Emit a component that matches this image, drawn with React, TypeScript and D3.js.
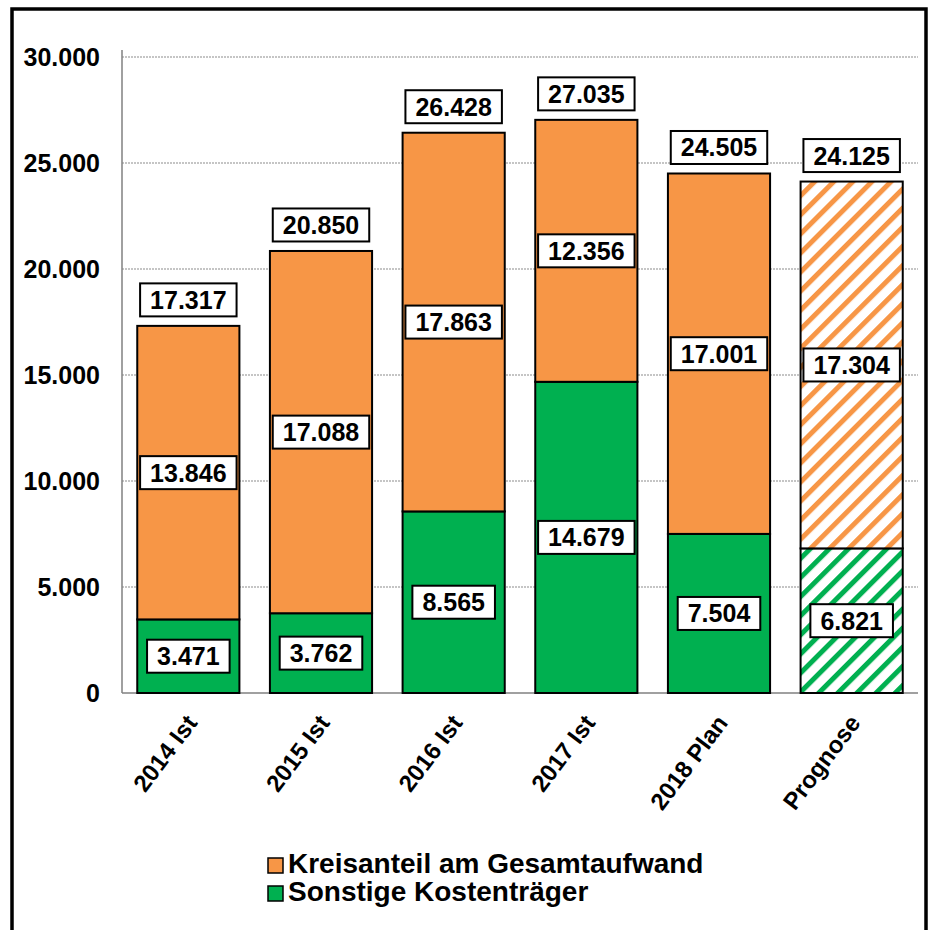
import React from 'react';
import * as d3 from 'd3';

const categories = ['2014 Ist', '2015 Ist', '2016 Ist', '2017 Ist', '2018 Plan', 'Prognose'];
const sonstige = [3471, 3762, 8565, 14679, 7504, 6821];
const kreisanteil = [13846, 17088, 17863, 12356, 17001, 17304];
const totals = [17317, 20850, 26428, 27035, 24505, 24125];
const hatched = [false, false, false, false, false, true];
const yTicks = [0, 5000, 10000, 15000, 20000, 25000, 30000];
const seriesNames = ['Kreisanteil am Gesamtaufwand', 'Sonstige Kostenträger'];

const ORANGE = '#F79646';
const GREEN = '#00B050';
const FONT = 'Liberation Sans, Arial, sans-serif';

const fmt = (v: number) => d3.format(',')(v).replace(/,/g, '.');

export default function App() {
  const ref = React.useRef<SVGSVGElement>(null);

  React.useEffect(() => {
    const svg = d3.select(ref.current);
    svg.selectAll('*').remove();

    const left = 122, right = 918, top = 57, bottom = 693;

    const defs = svg.append('defs');
    [['hatchOrange', ORANGE], ['hatchGreen', GREEN]].forEach(([id, c]) => {
      const p = defs.append('pattern')
        .attr('id', id)
        .attr('patternUnits', 'userSpaceOnUse')
        .attr('width', 13.5)
        .attr('height', 13.5)
        .attr('patternTransform', 'rotate(45)');
      p.append('rect').attr('width', 13.5).attr('height', 13.5).attr('fill', '#fff');
      p.append('rect').attr('x', 0).attr('width', 5).attr('height', 13.5).attr('fill', c);
    });

    // outer frame
    svg.append('rect')
      .attr('x', 12).attr('y', 9).attr('width', 914).attr('height', 930)
      .attr('fill', 'none').attr('stroke', '#000').attr('stroke-width', 3.5);

    const x = d3.scaleBand().domain(categories).range([left, right]).paddingInner(0.23).paddingOuter(0.115);
    const y = d3.scaleLinear().domain([0, 30000]).range([bottom, top]);

    // gridlines
    svg.append('g').selectAll('line')
      .data(yTicks.filter(d => d > 0))
      .enter().append('line')
      .attr('x1', left).attr('x2', right)
      .attr('y1', d => y(d)).attr('y2', d => y(d))
      .attr('stroke', '#8c8c8c').attr('stroke-width', 1.2).attr('stroke-dasharray', '2,1');

    // axes lines
    svg.append('line').attr('x1', left).attr('x2', left).attr('y1', 50).attr('y2', bottom)
      .attr('stroke', '#808080').attr('stroke-width', 1.5);
    svg.append('line').attr('x1', left).attr('x2', right).attr('y1', bottom).attr('y2', bottom)
      .attr('stroke', '#808080').attr('stroke-width', 1.5);

    // y tick labels
    svg.append('g').selectAll('text')
      .data(yTicks)
      .enter().append('text')
      .attr('x', 100).attr('y', d => y(d)).attr('dy', '0.36em')
      .attr('text-anchor', 'end')
      .attr('font-family', FONT).attr('font-weight', 'bold').attr('font-size', 25)
      .text(d => fmt(d));

    const bars = svg.append('g');
    categories.forEach((c, i) => {
      const x0 = x(c)!;
      const w = x.bandwidth();
      const g0 = sonstige[i];
      const g1 = g0 + kreisanteil[i];
      bars.append('rect')
        .attr('x', x0).attr('width', w)
        .attr('y', y(g0)).attr('height', y(0) - y(g0))
        .attr('fill', hatched[i] ? 'url(#hatchGreen)' : GREEN)
        .attr('stroke', '#000').attr('stroke-width', 2);
      bars.append('rect')
        .attr('x', x0).attr('width', w)
        .attr('y', y(g1)).attr('height', y(g0) - y(g1))
        .attr('fill', hatched[i] ? 'url(#hatchOrange)' : ORANGE)
        .attr('stroke', '#000').attr('stroke-width', 2);
    });

    const labelBox = (cx: number, cy: number, v: number) => {
      const g = svg.append('g');
      const t = g.append('text')
        .attr('x', cx).attr('y', cy).attr('dy', '0.36em')
        .attr('text-anchor', 'middle')
        .attr('font-family', FONT).attr('font-weight', 'bold').attr('font-size', 25)
        .text(fmt(v));
      const tw = (t.node() as SVGTextElement).getComputedTextLength();
      const bw = tw + 20, bh = 33;
      g.insert('rect', 'text')
        .attr('x', cx - bw / 2).attr('y', cy - bh / 2)
        .attr('width', bw).attr('height', bh)
        .attr('fill', '#fff').attr('stroke', '#000').attr('stroke-width', 2);
    };

    categories.forEach((c, i) => {
      const cx = x(c)! + x.bandwidth() / 2;
      const g0 = sonstige[i];
      const g1 = g0 + kreisanteil[i];
      labelBox(cx, (y(0) + y(g0)) / 2, sonstige[i]);
      labelBox(cx, (y(g0) + y(g1)) / 2, kreisanteil[i]);
      labelBox(cx, y(totals[i]) - 26, totals[i]);
    });

    // x labels
    svg.append('g').selectAll('text')
      .data(categories)
      .enter().append('text')
      .attr('transform', d => `translate(${x(d)! + x.bandwidth() / 2 + 3},${bottom + 25}) rotate(-53)`)
      .attr('text-anchor', 'end')
      .attr('dy', '0.36em')
      .attr('font-family', FONT).attr('font-weight', 'bold').attr('font-size', 24)
      .text(d => d);

    // legend
    const lg = svg.append('g');
    [ORANGE, GREEN].forEach((c, i) => {
      lg.append('rect')
        .attr('x', 268).attr('y', 858 + i * 28).attr('width', 15).attr('height', 15)
        .attr('fill', c).attr('stroke', '#000').attr('stroke-width', 1.5);
      lg.append('text')
        .attr('x', 288).attr('y', 873 + i * 28)
        .attr('font-family', FONT).attr('font-weight', 'bold').attr('font-size', 28)
        .text(seriesNames[i]);
    });
  }, []);

  return (
    <svg ref={ref} width={932} height={930} style={{ position: 'absolute', left: 0, top: 0 }} />
  );
}
